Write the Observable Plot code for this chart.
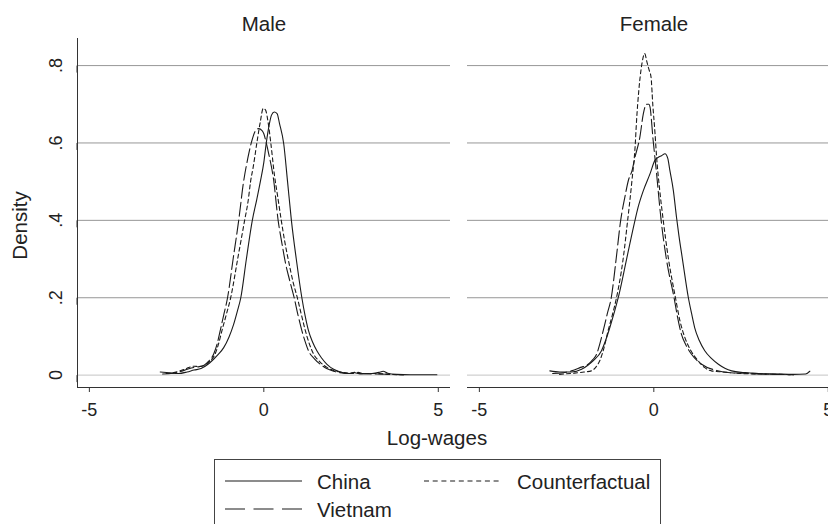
<!DOCTYPE html>
<html>
<head>
<meta charset="utf-8">
<script src="https://cdn.jsdelivr.net/npm/d3@7"></script>
<script src="https://cdn.jsdelivr.net/npm/@observablehq/plot@0.6"></script>
<style>
html,body{margin:0;padding:0;background:#fff;overflow:hidden;width:828px;height:524px;}
#wrap{position:relative;width:828px;height:524px;font-family:"Liberation Sans",Arial,sans-serif;color:#222;overflow:hidden;}
#chart{position:absolute;left:0;top:0;}
#xlabel{position:absolute;top:428px;left:0;width:874px;text-align:center;font-size:20.5px;line-height:1;}
#legend{position:absolute;left:214px;top:459px;width:447px;height:90px;border:1px solid #444;box-sizing:border-box;}
</style>
</head>
<body>
<div id="wrap">
  <div id="chart"></div>
  <div id="xlabel">Log-wages</div>
  <div id="legend"></div>
</div>
<script>
// ---- categories / ticks ----
const sexes = ["Male", "Female"];
const seriesNames = ["China", "Vietnam", "Counterfactual"];
const xTicks = [-5, 0, 5];
const yTicks = [0, 0.2, 0.4, 0.6, 0.8];
const xDomain = [-5.34, 5.35];
const yDomain = [-0.032, 0.87];

// ---- density curves: [log-wage, density] ----
const maleChina = [[-2.97,0.008],[-2.7,0.006],[-2.45,0.004],[-2.2,0.008],[-2.0,0.013],[-1.8,0.017],[-1.6,0.028],[-1.44,0.041],[-1.3,0.054],[-1.15,0.071],[-1.0,0.098],[-0.87,0.13],[-0.76,0.165],[-0.66,0.2],[-0.5,0.3],[-0.33,0.4],[-0.2,0.455],[-0.1,0.5],[0.0,0.55],[0.07,0.6],[0.15,0.645],[0.22,0.672],[0.3,0.68],[0.38,0.676],[0.45,0.65],[0.57,0.598],[0.68,0.5],[0.79,0.4],[0.93,0.3],[1.09,0.2],[1.18,0.155],[1.28,0.115],[1.4,0.085],[1.52,0.063],[1.65,0.045],[1.81,0.028],[2.0,0.015],[2.19,0.008],[2.4,0.004],[2.6,0.006],[2.8,0.003],[3.1,0.004],[3.3,0.007],[3.42,0.01],[3.55,0.005],[3.8,0.002],[4.2,0.001],[4.6,0.001],[4.96,0.001]];
const maleVietnam = [[-2.9,0.003],[-2.6,0.005],[-2.4,0.009],[-2.2,0.015],[-2.0,0.02],[-1.85,0.022],[-1.72,0.025],[-1.58,0.036],[-1.44,0.054],[-1.34,0.08],[-1.25,0.115],[-1.15,0.155],[-1.04,0.2],[-0.88,0.3],[-0.72,0.4],[-0.58,0.5],[-0.46,0.56],[-0.36,0.6],[-0.25,0.63],[-0.15,0.637],[-0.05,0.632],[0.0,0.624],[0.07,0.6],[0.14,0.572],[0.28,0.505],[0.41,0.4],[0.52,0.34],[0.62,0.29],[0.74,0.245],[0.87,0.2],[0.98,0.155],[1.09,0.115],[1.18,0.088],[1.28,0.063],[1.45,0.042],[1.62,0.028],[1.8,0.017],[2.0,0.01],[2.3,0.005],[2.55,0.004],[2.7,0.007],[2.85,0.004],[3.2,0.003],[3.6,0.002],[4.0,0.001]];
const maleCounterfactual = [[-2.8,0.004],[-2.6,0.006],[-2.4,0.011],[-2.2,0.018],[-2.0,0.023],[-1.85,0.022],[-1.7,0.026],[-1.55,0.036],[-1.4,0.054],[-1.3,0.08],[-1.2,0.115],[-1.08,0.155],[-0.95,0.2],[-0.75,0.3],[-0.55,0.4],[-0.45,0.45],[-0.38,0.5],[-0.3,0.54],[-0.2,0.6],[-0.1,0.655],[-0.02,0.689],[0.05,0.685],[0.12,0.655],[0.2,0.6],[0.3,0.52],[0.4,0.46],[0.5,0.4],[0.6,0.345],[0.72,0.29],[0.84,0.24],[0.96,0.2],[1.08,0.155],[1.19,0.115],[1.3,0.082],[1.43,0.054],[1.6,0.035],[1.81,0.02],[2.0,0.012],[2.2,0.008],[2.45,0.005],[2.6,0.007],[2.8,0.004],[3.2,0.004],[3.6,0.002],[4.0,0.001]];
const femaleChina = [[-2.98,0.011],[-2.7,0.008],[-2.36,0.008],[-2.07,0.015],[-1.9,0.025],[-1.74,0.037],[-1.5,0.063],[-1.38,0.09],[-1.26,0.123],[-1.14,0.16],[-1.02,0.2],[-0.78,0.3],[-0.54,0.4],[-0.45,0.434],[-0.3,0.477],[-0.11,0.52],[0.03,0.555],[0.13,0.563],[0.22,0.567],[0.32,0.572],[0.4,0.56],[0.46,0.529],[0.56,0.477],[0.65,0.408],[0.72,0.36],[0.82,0.3],[0.99,0.2],[1.08,0.16],[1.17,0.123],[1.3,0.09],[1.46,0.063],[1.65,0.043],[1.85,0.028],[2.05,0.017],[2.23,0.011],[2.5,0.007],[2.7,0.006],[3.0,0.004],[3.5,0.003],[4.0,0.002],[4.35,0.003],[4.47,0.01]];
const femaleVietnam = [[-2.9,0.004],[-2.6,0.006],[-2.36,0.011],[-2.1,0.02],[-1.88,0.028],[-1.75,0.04],[-1.64,0.054],[-1.55,0.08],[-1.45,0.115],[-1.33,0.16],[-1.22,0.2],[-1.08,0.3],[-0.95,0.4],[-0.83,0.46],[-0.73,0.503],[-0.62,0.53],[-0.54,0.563],[-0.4,0.615],[-0.3,0.676],[-0.21,0.7],[-0.14,0.7],[-0.11,0.693],[-0.02,0.607],[0.08,0.52],[0.17,0.434],[0.21,0.4],[0.36,0.3],[0.58,0.2],[0.68,0.15],[0.79,0.106],[0.92,0.078],[1.08,0.054],[1.37,0.028],[1.8,0.012],[2.2,0.006],[2.6,0.005],[3.0,0.003],[3.5,0.002],[4.0,0.001]];
const femaleCounterfactual = [[-2.7,0.002],[-2.3,0.005],[-2.0,0.008],[-1.79,0.011],[-1.65,0.022],[-1.55,0.037],[-1.43,0.07],[-1.31,0.115],[-1.19,0.155],[-1.07,0.2],[-0.88,0.3],[-0.75,0.4],[-0.63,0.5],[-0.53,0.6],[-0.5,0.65],[-0.43,0.736],[-0.35,0.8],[-0.26,0.831],[-0.2,0.81],[-0.14,0.79],[-0.08,0.77],[-0.03,0.7],[0.03,0.63],[0.08,0.563],[0.17,0.477],[0.27,0.4],[0.42,0.3],[0.62,0.2],[0.75,0.14],[0.89,0.097],[1.05,0.065],[1.27,0.037],[1.45,0.02],[1.65,0.011],[2.0,0.008],[2.5,0.004],[3.0,0.003],[3.5,0.002],[4.0,0.001]];

// ---- build table ----
const curves = {
  Male: {China: maleChina, Vietnam: maleVietnam, Counterfactual: maleCounterfactual},
  Female: {China: femaleChina, Vietnam: femaleVietnam, Counterfactual: femaleCounterfactual}
};
const rows = [];
for (const sex of sexes) for (const s of seriesNames)
  for (const [x, y] of curves[sex][s]) rows.push({sex, series: s, x, y});

const dash = {China: null, Vietnam: "14,4", Counterfactual: "4,3"};
const ink = "#1a1a1a";
const fmtY = d => d === 0 ? "0" : String(d).replace(/^0/, "");
const fmtX = d => String(d);

const lineMarks = seriesNames.map(s => Plot.line(rows.filter(r => r.series === s), {
  x: "x", y: "y", fx: "sex", stroke: ink, strokeWidth: 1.1,
  strokeDasharray: dash[s] || undefined, curve: "monotone-x"
}));

const plot = Plot.plot({
  width: 840, height: 425,
  marginLeft: 77, marginRight: 0, marginTop: 38, marginBottom: 38,
  style: {fontFamily: '"Liberation Sans", Arial, sans-serif', color: "#222", background: "white", maxWidth: "none"},
  fx: {domain: sexes, paddingInner: 0.0436, paddingOuter: 0, label: null},
  x: {domain: xDomain, label: null},
  y: {domain: yDomain, label: null},
  marks: [
    Plot.gridY(yTicks.filter(d => d > 0), {stroke: "#979797", strokeOpacity: 1}),
    Plot.gridY(yTicks.filter(d => d === 0), {stroke: "#c4c4c4", strokeOpacity: 1}),
    Plot.ruleY([yDomain[0]], {stroke: "#333"}),
    Plot.ruleX(["Male"], {fx: d => d, x: xDomain[0], stroke: "#333"}),
    Plot.axisY({ticks: yTicks, tickFormat: fmtY, tickSize: 7, tickPadding: 9, rotate: -90,
      textAnchor: "middle", lineAnchor: "bottom", fontSize: 18, label: null, stroke: "#333"}),
    Plot.axisX({ticks: xTicks, tickFormat: fmtX, tickSize: 5, tickPadding: 11, fontSize: 18, label: null, stroke: "#333"}),
    Plot.axisFx({anchor: "top", tickSize: 0, tickPadding: 7.5, fontSize: 20.5, label: null}),
    Plot.text(["Male"], {fx: d => d, text: () => "Density", frameAnchor: "left", rotate: -90,
      textAnchor: "middle", lineAnchor: "bottom", dx: -51, dy: 12.5, fontSize: 20.5}),
    ...lineMarks
  ]
});
plot.style.maxWidth = "none";
document.getElementById("chart").appendChild(plot);

// ---- legend ----
const legendItems = [
  {name: "China", lx: 10, tx: 102, y: 21},
  {name: "Counterfactual", lx: 209, tx: 302, y: 21},
  {name: "Vietnam", lx: 10, tx: 102, y: 49}
];
const ns = "http://www.w3.org/2000/svg";
const lsvg = document.createElementNS(ns, "svg");
lsvg.setAttribute("width", 445); lsvg.setAttribute("height", 88);
lsvg.style.position = "absolute"; lsvg.style.left = "0"; lsvg.style.top = "0";
for (const it of legendItems) {
  const ln = document.createElementNS(ns, "line");
  ln.setAttribute("x1", it.lx); ln.setAttribute("x2", it.lx + 77);
  ln.setAttribute("y1", it.y); ln.setAttribute("y2", it.y);
  ln.setAttribute("stroke", ink); ln.setAttribute("stroke-width", 1.1);
  if (it.name === "Vietnam") ln.setAttribute("stroke-dasharray", "20,8.5");
  if (it.name === "Counterfactual") ln.setAttribute("stroke-dasharray", "5,3.7");
  lsvg.appendChild(ln);
  const tx = document.createElementNS(ns, "text");
  tx.setAttribute("x", it.tx); tx.setAttribute("y", it.y + 7.5);
  tx.setAttribute("font-size", "20.5");
  tx.setAttribute("font-family", '"Liberation Sans", Arial, sans-serif');
  tx.setAttribute("fill", "#222");
  tx.textContent = it.name;
  lsvg.appendChild(tx);
}
document.getElementById("legend").appendChild(lsvg);
</script>
</body>
</html>
